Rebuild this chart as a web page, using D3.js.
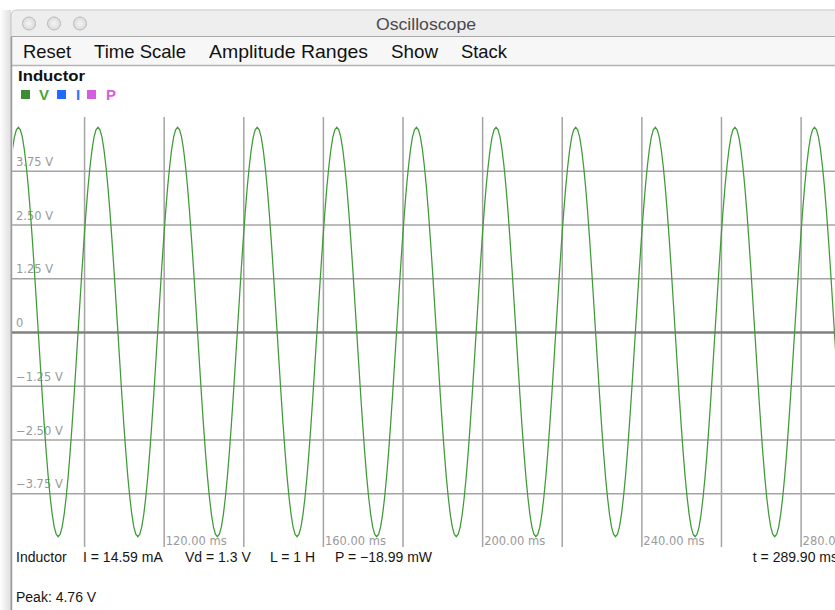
<!DOCTYPE html>
<html>
<head>
<meta charset="utf-8">
<script src="https://cdn.jsdelivr.net/npm/d3@7"></script>
<style>
body { margin: 0; background: #fff; }
svg { display: block; font-family: "Liberation Sans", Arial, sans-serif; }
.grid line { stroke: #a4a4a4; stroke-width: 1.5; }
.tick-label { font-family: "DejaVu Sans", sans-serif; font-size: 11.5px; fill: #9a9a9a; }
.status { font-size: 14px; fill: #151515; }
</style>
</head>
<body>
<svg id="scope" width="835" height="610"></svg>
<script>
var windowTitle = "Oscilloscope";
var menuItems = ["Reset", "Time Scale", "Amplitude Ranges", "Show", "Stack"];
var scopeTitle = "Inductor";
var legendItems = ["V", "I", "P"];
var yTicks = [3.75, 2.5, 1.25, 0, -1.25, -2.5, -3.75];
var yTickLabels = ["3.75 V", "2.50 V", "1.25 V", "0", "\u22121.25 V", "\u22122.50 V", "\u22123.75 V"];
var xGridTicks = [100, 120, 140, 160, 180, 200, 220, 240, 260, 280];
var xLabelTicks = [120, 160, 200, 240, 280];
var xTickLabels = ["120.00 ms", "160.00 ms", "200.00 ms", "240.00 ms", "280.00 ms"];
var statusLabels = ["Inductor", "I = 14.59 mA", "Vd = 1.3 V", "L = 1 H", "P = \u221218.99 mW"];
var timeLabel = "t = 289.90 ms";
var peakLabel = "Peak: 4.76 V";

// voltage samples (V), one every 0.5 ms starting at 82 ms
var sampleStart = 82, sampleStep = 0.5;
var voltage = [
  4.24, 4.53, 4.70,
  4.76, 4.70, 4.53, 4.24, 3.85, 3.37, 2.80, 2.16, 1.47, 0.74, 0.00, -0.74, -1.47, -2.16, -2.80, -3.37, -3.85, -4.24, -4.53, -4.70, -4.76, -4.70, -4.53, -4.24, -3.85, -3.37, -2.80, -2.16, -1.47, -0.74, 0.00, 0.74, 1.47, 2.16, 2.80, 3.37, 3.85, 4.24, 4.53, 4.70,
  4.76, 4.70, 4.53, 4.24, 3.85, 3.37, 2.80, 2.16, 1.47, 0.74, 0.00, -0.74, -1.47, -2.16, -2.80, -3.37, -3.85, -4.24, -4.53, -4.70, -4.76, -4.70, -4.53, -4.24, -3.85, -3.37, -2.80, -2.16, -1.47, -0.74, 0.00, 0.74, 1.47, 2.16, 2.80, 3.37, 3.85, 4.24, 4.53, 4.70,
  4.76, 4.70, 4.53, 4.24, 3.85, 3.37, 2.80, 2.16, 1.47, 0.74, 0.00, -0.74, -1.47, -2.16, -2.80, -3.37, -3.85, -4.24, -4.53, -4.70, -4.76, -4.70, -4.53, -4.24, -3.85, -3.37, -2.80, -2.16, -1.47, -0.74, 0.00, 0.74, 1.47, 2.16, 2.80, 3.37, 3.85, 4.24, 4.53, 4.70,
  4.76, 4.70, 4.53, 4.24, 3.85, 3.37, 2.80, 2.16, 1.47, 0.74, 0.00, -0.74, -1.47, -2.16, -2.80, -3.37, -3.85, -4.24, -4.53, -4.70, -4.76, -4.70, -4.53, -4.24, -3.85, -3.37, -2.80, -2.16, -1.47, -0.74, 0.00, 0.74, 1.47, 2.16, 2.80, 3.37, 3.85, 4.24, 4.53, 4.70,
  4.76, 4.70, 4.53, 4.24, 3.85, 3.37, 2.80, 2.16, 1.47, 0.74, 0.00, -0.74, -1.47, -2.16, -2.80, -3.37, -3.85, -4.24, -4.53, -4.70, -4.76, -4.70, -4.53, -4.24, -3.85, -3.37, -2.80, -2.16, -1.47, -0.74, 0.00, 0.74, 1.47, 2.16, 2.80, 3.37, 3.85, 4.24, 4.53, 4.70,
  4.76, 4.70, 4.53, 4.24, 3.85, 3.37, 2.80, 2.16, 1.47, 0.74, 0.00, -0.74, -1.47, -2.16, -2.80, -3.37, -3.85, -4.24, -4.53, -4.70, -4.76, -4.70, -4.53, -4.24, -3.85, -3.37, -2.80, -2.16, -1.47, -0.74, 0.00, 0.74, 1.47, 2.16, 2.80, 3.37, 3.85, 4.24, 4.53, 4.70,
  4.76, 4.70, 4.53, 4.24, 3.85, 3.37, 2.80, 2.16, 1.47, 0.74, 0.00, -0.74, -1.47, -2.16, -2.80, -3.37, -3.85, -4.24, -4.53, -4.70, -4.76, -4.70, -4.53, -4.24, -3.85, -3.37, -2.80, -2.16, -1.47, -0.74, 0.00, 0.74, 1.47, 2.16, 2.80, 3.37, 3.85, 4.24, 4.53, 4.70,
  4.76, 4.70, 4.53, 4.24, 3.85, 3.37, 2.80, 2.16, 1.47, 0.74, 0.00, -0.74, -1.47, -2.16, -2.80, -3.37, -3.85, -4.24, -4.53, -4.70, -4.76, -4.70, -4.53, -4.24, -3.85, -3.37, -2.80, -2.16, -1.47, -0.74, 0.00, 0.74, 1.47, 2.16, 2.80, 3.37, 3.85, 4.24, 4.53, 4.70,
  4.76, 4.70, 4.53, 4.24, 3.85, 3.37, 2.80, 2.16, 1.47, 0.74, 0.00, -0.74, -1.47, -2.16, -2.80, -3.37, -3.85, -4.24, -4.53, -4.70, -4.76, -4.70, -4.53, -4.24, -3.85, -3.37, -2.80, -2.16, -1.47, -0.74, 0.00, 0.74, 1.47, 2.16, 2.80, 3.37, 3.85, 4.24, 4.53, 4.70,
  4.76, 4.70, 4.53, 4.24, 3.85, 3.37, 2.80, 2.16, 1.47, 0.74, 0.00, -0.74, -1.47, -2.16, -2.80, -3.37, -3.85, -4.24, -4.53, -4.70, -4.76, -4.70, -4.53, -4.24, -3.85, -3.37, -2.80, -2.16, -1.47, -0.74, 0.00, 0.74, 1.47, 2.16, 2.80, 3.37, 3.85, 4.24, 4.53, 4.70,
  4.76, 4.70, 4.53, 4.24, 3.85, 3.37, 2.80, 2.16, 1.47, 0.74, 0.00, -0.74, -1.47, -2.16
];

function drawScope() {
    var svg = d3.select("#scope");
    var plot = {left: 12, right: 840, top: 117, bottom: 547};
    var defs = svg.append("defs");

    // window chrome
    var shadow = defs.append("linearGradient").attr("id", "shadowLeft");
    shadow.append("stop").attr("offset", "0%").attr("stop-color", "#ffffff");
    shadow.append("stop").attr("offset", "100%").attr("stop-color", "#dedede");
    var titleGrad = defs.append("linearGradient").attr("id", "titleGrad")
        .attr("x1", 0).attr("x2", 0).attr("y1", 0).attr("y2", 1);
    titleGrad.append("stop").attr("offset", "0%").attr("stop-color", "#eeeeee");
    titleGrad.append("stop").attr("offset", "100%").attr("stop-color", "#d6d6d6");
    var btnGrad = defs.append("radialGradient").attr("id", "btnGrad");
    btnGrad.append("stop").attr("offset", "0%").attr("stop-color", "#f4f4f4");
    btnGrad.append("stop").attr("offset", "100%").attr("stop-color", "#dcdcdc");

    svg.append("rect").attr("x", 0).attr("y", 10).attr("width", 11).attr("height", 600)
        .attr("fill", "url(#shadowLeft)");
    svg.append("path")
        .attr("d", "M11,610 L11,16 Q11,10 17,10 L840,10 L840,37 L11,37 Z")
        .attr("fill", "url(#titleGrad)")
        .attr("stroke", "#c4c4c4");
    svg.append("rect").attr("x", 11).attr("y", 37).attr("width", 830).attr("height", 28)
        .attr("fill", "#f7f7f7");
    svg.append("line").attr("x1", 11).attr("x2", 835).attr("y1", 36.5).attr("y2", 36.5)
        .attr("stroke", "#a9a9a9");
    svg.append("line").attr("x1", 11).attr("x2", 835).attr("y1", 65.5).attr("y2", 65.5)
        .attr("stroke", "#b4b4b4").attr("stroke-width", 1.5);
    svg.append("line").attr("x1", 11.5).attr("x2", 11.5).attr("y1", 37).attr("y2", 610)
        .attr("stroke", "#9c9c9c").attr("stroke-width", 1.5);

    svg.selectAll(".btn").data([29, 54, 80]).enter().append("circle")
        .attr("class", "btn")
        .attr("cx", function(d) { return d; })
        .attr("cy", 23.5)
        .attr("r", 6.5)
        .attr("fill", "url(#btnGrad)")
        .attr("stroke", "#b9b9b9");

    svg.append("text").attr("x", 426).attr("y", 29.5)
        .attr("text-anchor", "middle")
        .attr("font-size", 17).attr("fill", "#4a4a4a")
        .attr("textLength", 100).attr("lengthAdjust", "spacingAndGlyphs")
        .text(windowTitle);

    var menuX = [23, 94, 209, 391, 461], menuW = [48, 92, 159, 47, 46];
    svg.selectAll(".menu").data(menuItems).enter().append("text")
        .attr("class", "menu")
        .attr("x", function(d, i) { return menuX[i]; })
        .attr("y", 58)
        .attr("font-size", 18.5).attr("fill", "#111")
        .attr("textLength", function(d, i) { return menuW[i]; })
        .attr("lengthAdjust", "spacingAndGlyphs")
        .text(function(d) { return d; });

    // scales
    var x = d3.scaleLinear().domain([81.9, 289.9]).range([plot.left, plot.right]);
    var y = d3.scaleLinear().domain([-5, 5]).range([plot.bottom, plot.top]);

    // grid
    var xGrid = svg.append("g")
        .attr("class", "grid")
        .attr("transform", "translate(0," + plot.bottom + ")")
        .call(d3.axisBottom(x).tickValues(xGridTicks).tickSize(-(plot.bottom - plot.top)).tickFormat(""));
    xGrid.select(".domain").remove();

    var yGrid = svg.append("g")
        .attr("class", "grid")
        .attr("transform", "translate(" + plot.left + ",0)")
        .call(d3.axisLeft(y).tickValues(yTicks).tickSize(-(plot.right - plot.left)).tickFormat(""));
    yGrid.select(".domain").remove();
    yGrid.selectAll(".tick").filter(function(d) { return d === 0; }).select("line")
        .style("stroke", "#808080").style("stroke-width", 2.5);

    // tick labels
    svg.selectAll(".ylab").data(yTicks).enter().append("text")
        .attr("class", "tick-label")
        .attr("x", 16)
        .attr("y", function(d) { return y(d) - 5; })
        .text(function(d, i) { return yTickLabels[i]; });

    svg.selectAll(".xlab").data(xLabelTicks).enter().append("text")
        .attr("class", "tick-label")
        .attr("x", function(d) { return x(d) + 2; })
        .attr("y", plot.bottom - 2)
        .text(function(d, i) { return xTickLabels[i]; });

    // waveform
    defs.append("clipPath").attr("id", "plotClip")
        .append("rect")
        .attr("x", plot.left + 1).attr("y", plot.top)
        .attr("width", plot.right - plot.left).attr("height", plot.bottom - plot.top);

    var line = d3.line()
        .x(function(d, i) { return x(sampleStart + i * sampleStep); })
        .y(function(d) { return y(d); });

    svg.append("path")
        .datum(voltage)
        .attr("clip-path", "url(#plotClip)")
        .attr("fill", "none")
        .attr("stroke", "#3f9a37")
        .attr("stroke-width", 1.25)
        .attr("d", line);

    // header + legend
    svg.append("text").attr("x", 18).attr("y", 81)
        .attr("font-size", 15.5).attr("font-weight", "bold").attr("fill", "#111")
        .attr("textLength", 67).attr("lengthAdjust", "spacingAndGlyphs")
        .text(scopeTitle);

    var boxColors = ["#3d8c33", "#1f6bff", "#d65ddd"];
    var textColors = ["#4aa33f", "#2f78ff", "#d661dc"];
    var boxX = [21, 57, 87], labX = [39, 76, 106];
    var legend = svg.selectAll(".legend").data(legendItems).enter().append("g").attr("class", "legend");
    legend.append("rect")
        .attr("x", function(d, i) { return boxX[i]; })
        .attr("y", 90).attr("width", 9).attr("height", 9)
        .attr("fill", function(d, i) { return boxColors[i]; });
    legend.append("text")
        .attr("x", function(d, i) { return labX[i]; })
        .attr("y", 100)
        .attr("font-size", 15).attr("font-weight", "bold")
        .attr("fill", function(d, i) { return textColors[i]; })
        .text(function(d) { return d; });

    // status lines
    var statusX = [16, 83, 185, 270, 335];
    svg.selectAll(".statusItem").data(statusLabels).enter().append("text")
        .attr("class", "status")
        .attr("x", function(d, i) { return statusX[i]; })
        .attr("y", 562)
        .text(function(d) { return d; });

    svg.append("text").attr("class", "status")
        .attr("x", 838).attr("y", 562).attr("text-anchor", "end")
        .text(timeLabel);

    svg.append("text").attr("class", "status")
        .attr("x", 16).attr("y", 602)
        .text(peakLabel);
}

drawScope();
</script>
</body>
</html>
